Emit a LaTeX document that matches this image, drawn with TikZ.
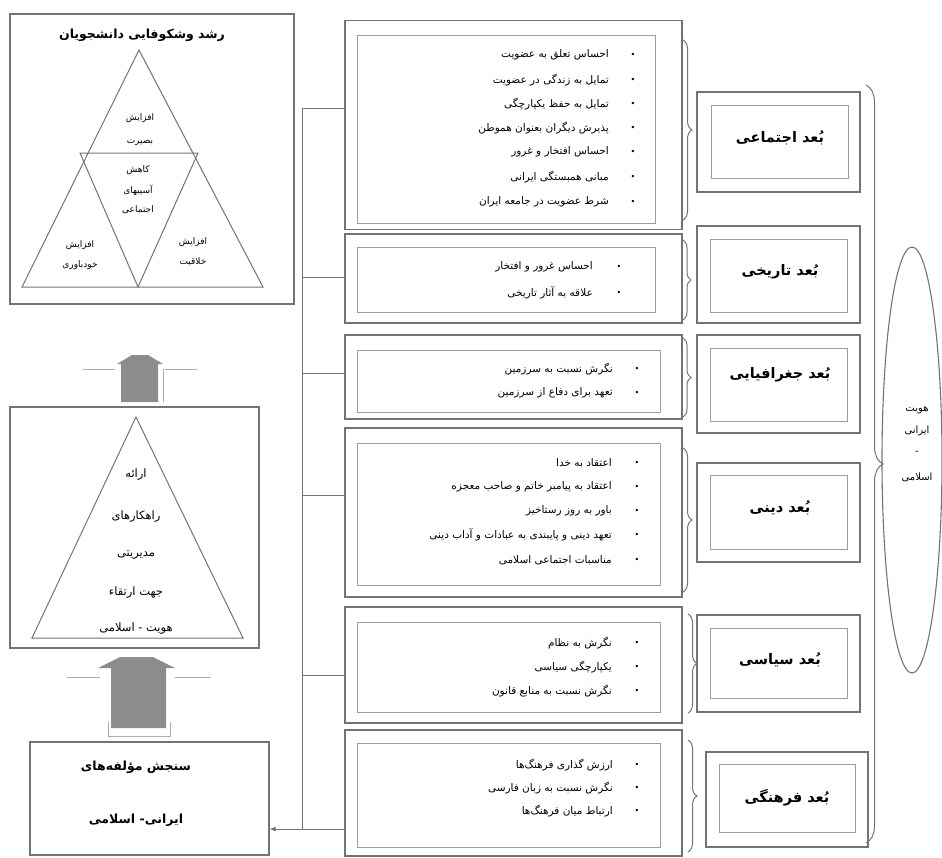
\documentclass[tikz,border=0pt]{standalone}
\usepackage{fontspec}
\newfontfamily\arabicfont[Script=Arabic]{DejaVu Sans}
\TeXXeTstate=1
\usetikzlibrary{shapes.geometric, decorations.pathreplacing, arrows.meta}
\newcommand{\fatext}[1]{{\arabicfont\beginR #1\endR}}
\definecolor{framegray}{gray}{0.45}
\definecolor{arrowgray}{gray}{0.55}
\tikzset{
  outerbox/.style={draw=framegray, line width=1.1pt, inner sep=0pt},
  innerbox/.style={draw=framegray!70, line width=0.8pt, inner sep=0pt},
  item/.style={anchor=east, inner sep=0pt, font=\fontsize{10.5}{11}\selectfont},
  bulletmark/.style={inner sep=0pt, font=\fontsize{8}{9}\selectfont},
  dimlabel/.style={font=\fontsize{14.5}{16}\selectfont\bfseries},
  pyrtext/.style={inner sep=0pt, font=\fontsize{9}{10}\selectfont},
  bigpyrtext/.style={inner sep=0pt, font=\fontsize{11.5}{12}\selectfont},
  boldtext/.style={font=\fontsize{12.5}{14}\selectfont\bfseries},
  braceline/.style={framegray, line width=1pt, decorate},
  flange/.style={framegray!60, line width=0.8pt},
}

\begin{document}
\begin{tikzpicture}[x=1pt, y=-1pt]
  \useasboundingbox (0,0) rectangle (942,857);

  % left column
  \node (top) [outerbox, minimum width=284pt, minimum height=290pt] at (152,159) {};
  \node (title) [boldtext] at (142,35) {\fatext{رشد وشکوفایی دانشجویان}};
  \draw[framegray, line width=1pt] (139,50) -- (22,287) -- (263,287) -- cycle;
  \draw[framegray, line width=1pt] (80,153) -- (198,153) -- (138,287) -- cycle;
  \node (t1) [pyrtext] at (140,118) {\fatext{افزایش}};
  \node (t2) [pyrtext] at (140,143) {\fatext{بصیرت}};
  \node (t3) [pyrtext] at (138,170) {\fatext{کاهش}};
  \node (t4) [pyrtext] at (138,190) {\fatext{آسیبهای}};
  \node (t5) [pyrtext] at (138,210) {\fatext{اجتماعی}};
  \node (t6) [pyrtext] at (80,245) {\fatext{افزایش}};
  \node (t7) [pyrtext] at (80,265) {\fatext{خودباوری}};
  \node (t8) [pyrtext] at (193,242) {\fatext{افزایش}};
  \node (t9) [pyrtext] at (193,262) {\fatext{خلاقیت}};

  % upper block arrow
  \fill[arrowgray] (121,402) -- (121,364) -- (117,364) -- (132,355) -- (148,355) -- (163,364) -- (158,364) -- (158,402) -- cycle;
  \draw[flange] (83,369) -- (115,369);
  \draw[flange] (165,369) -- (197,369);
  \draw[flange] (163,369) -- (163,402);

  \node (mid) [outerbox, minimum width=249pt, minimum height=241pt] at (134.5,527.5) {};
  \draw[framegray, line width=1pt] (136,417) -- (32,638) -- (243,638) -- cycle;
  \node (m1) [bigpyrtext] at (136,475) {\fatext{ارائه}};
  \node (m2) [bigpyrtext] at (136,517) {\fatext{راهکارهای}};
  \node (m3) [bigpyrtext] at (136,555) {\fatext{مدیریتی}};
  \node (m4) [bigpyrtext] at (136,593) {\fatext{جهت ارتقاء}};
  \node (m5) [bigpyrtext] at (136,629) {\fatext{هویت - اسلامی}};

  % lower block arrow
  \fill[arrowgray] (111,728) -- (111,668) -- (98,668) -- (120,657) -- (153,657) -- (175,668) -- (166,668) -- (166,728) -- cycle;
  \draw[flange] (67,677) -- (100,677);
  \draw[flange] (175,677) -- (211,677);
  \draw[flange] (108,722) -- (108,736) -- (170,736) -- (170,722);

  \node (low) [outerbox, minimum width=239pt, minimum height=113pt] at (149.5,798.5) {};
  \node (l1) [boldtext] at (136,767) {\fatext{سنجش مؤلفه‌های}};
  \node (l2) [boldtext] at (136,820) {\fatext{ایرانی- اسلامی}};

  % item boxes
  \node (b1) [outerbox, minimum width=337pt, minimum height=209pt] at (513.5,125) {};
  \node (b1in) [innerbox, minimum width=298pt, minimum height=188pt] at (506,129) {};
  \node (b2) [outerbox, minimum width=337pt, minimum height=89pt] at (513.5,278.5) {};
  \node (b2in) [innerbox, minimum width=298pt, minimum height=65pt] at (506,279.5) {};
  \node (b3) [outerbox, minimum width=337pt, minimum height=84pt] at (513.5,377) {};
  \node (b3in) [innerbox, minimum width=303pt, minimum height=62pt] at (508.5,381) {};
  \node (b4) [outerbox, minimum width=337pt, minimum height=169pt] at (513.5,512.5) {};
  \node (b4in) [innerbox, minimum width=303pt, minimum height=142pt] at (508.5,514) {};
  \node (b5) [outerbox, minimum width=337pt, minimum height=116pt] at (513.5,665) {};
  \node (b5in) [innerbox, minimum width=303pt, minimum height=90pt] at (508.5,667) {};
  \node (b6) [outerbox, minimum width=337pt, minimum height=126pt] at (513.5,793) {};
  \node (b6in) [innerbox, minimum width=303pt, minimum height=104pt] at (508.5,795) {};

  \node (s1) [item] at (609,55) {\fatext{احساس تعلق به عضویت}};
  \node (s2) [item] at (609,80) {\fatext{تمایل به زندگی در عضویت}};
  \node (s3) [item] at (609,104) {\fatext{تمایل به حفظ یکپارچگی}};
  \node (s4) [item] at (609,128) {\fatext{پذیرش دیگران بعنوان هموطن}};
  \node (s5) [item] at (609,152) {\fatext{احساس افتخار و غرور}};
  \node (s6) [item] at (609,177) {\fatext{مبانی همبستگی ایرانی}};
  \node (s7) [item] at (609,202) {\fatext{شرط عضویت در جامعه ایران}};
  \foreach \y in {55,80,104,128,152,177,202}
    \node [bulletmark] at (633,\y) {\arabicfont •};

  \node (h1) [item] at (593,267) {\fatext{احساس غرور و افتخار}};
  \node (h2) [item] at (593,293) {\fatext{علاقه به آثار تاریخی}};
  \foreach \y in {267,293}
    \node [bulletmark] at (619,\y) {\arabicfont •};

  \node (g1) [item] at (613,369) {\fatext{نگرش نسبت به سرزمین}};
  \node (g2) [item] at (613,393) {\fatext{تعهد برای دفاع از سرزمین}};
  \foreach \y in {369,393}
    \node [bulletmark] at (637,\y) {\arabicfont •};

  \node (r1) [item] at (612,463) {\fatext{اعتقاد به خدا}};
  \node (r2) [item] at (612,487) {\fatext{اعتقاد به پیامبر خاتم و صاحب معجزه}};
  \node (r3) [item] at (612,511) {\fatext{باور به روز رستاخیز}};
  \node (r4) [item] at (612,535) {\fatext{تعهد دینی و پایبندی به عبادات و آداب دینی}};
  \node (r5) [item] at (612,560) {\fatext{مناسبات اجتماعی اسلامی}};
  \foreach \y in {463,487,511,535,560}
    \node [bulletmark] at (637,\y) {\arabicfont •};

  \node (p1) [item] at (612,643) {\fatext{نگرش به نظام}};
  \node (p2) [item] at (612,667) {\fatext{یکپارچگی سیاسی}};
  \node (p3) [item] at (612,691) {\fatext{نگرش نسبت به منابع قانون}};
  \foreach \y in {643,667,691}
    \node [bulletmark] at (637,\y) {\arabicfont •};

  \node (c1) [item] at (613,765) {\fatext{ارزش گذاری فرهنگ‌ها}};
  \node (c2) [item] at (613,788) {\fatext{نگرش نسبت به زبان فارسی}};
  \node (c3) [item] at (613,811) {\fatext{ارتباط میان فرهنگ‌ها}};
  \foreach \y in {765,788,811}
    \node [bulletmark] at (637,\y) {\arabicfont •};

  % braces
  \draw[braceline, decoration={brace, amplitude=9pt}] (683,40) -- (683,220);
  \draw[braceline, decoration={brace, amplitude=8pt}] (683,240) -- (683,320);
  \draw[braceline, decoration={brace, amplitude=8pt}] (683,338) -- (683,417);
  \draw[braceline, decoration={brace, amplitude=9pt}] (683,448) -- (683,592);
  \draw[braceline, decoration={brace, amplitude=9pt}] (688,614) -- (688,713);
  \draw[braceline, decoration={brace, amplitude=9pt}] (688,740) -- (688,852);

  % dimension boxes
  \node (d1) [outerbox, minimum width=163pt, minimum height=100pt] at (778.5,142) {};
  \node (d1in) [innerbox, minimum width=137pt, minimum height=73pt] at (779.5,141.5) {};
  \node (d2) [outerbox, minimum width=163pt, minimum height=97pt] at (778.5,274.5) {};
  \node (d2in) [innerbox, minimum width=137pt, minimum height=73pt] at (779,275.5) {};
  \node (d3) [outerbox, minimum width=163pt, minimum height=98pt] at (778.5,384) {};
  \node (d3in) [innerbox, minimum width=137pt, minimum height=73pt] at (779,384.5) {};
  \node (d4) [outerbox, minimum width=163pt, minimum height=99pt] at (778.5,512.5) {};
  \node (d4in) [innerbox, minimum width=137pt, minimum height=74pt] at (779,512) {};
  \node (d5) [outerbox, minimum width=163pt, minimum height=97pt] at (778.5,663.5) {};
  \node (d5in) [innerbox, minimum width=137pt, minimum height=70pt] at (779,663) {};
  \node (d6) [outerbox, minimum width=162pt, minimum height=95pt] at (787,799.5) {};
  \node (d6in) [innerbox, minimum width=136pt, minimum height=68pt] at (787,798) {};
  \node (e1) [dimlabel] at (780,138) {\fatext{بُعد اجتماعی}};
  \node (e2) [dimlabel] at (780,272) {\fatext{بُعد تاریخی}};
  \node (e3) [dimlabel] at (780,375) {\fatext{بُعد جغرافیایی}};
  \node (e4) [dimlabel] at (780,508) {\fatext{بُعد دینی}};
  \node (e5) [dimlabel] at (780,660) {\fatext{بُعد سیاسی}};
  \node (e6) [dimlabel] at (787,798) {\fatext{بُعد فرهنگی}};

  % whole identity
  \draw[braceline, decoration={brace, amplitude=17pt}] (866,85) -- (866,843);
  \node (hoviat) [ellipse, draw=framegray, line width=1.1pt, minimum width=60pt, minimum height=426pt] at (912,460) {};
  \node (w1) [pyrtext, font=\fontsize{10}{11}\selectfont] at (917,410) {\fatext{هویت}};
  \node (w2) [pyrtext, font=\fontsize{10}{11}\selectfont] at (917,431) {\fatext{ایرانی}};
  \node (w3) [pyrtext, font=\fontsize{10}{11}\selectfont] at (917,453) {\fatext{-}};
  \node (w4) [pyrtext, font=\fontsize{10}{11}\selectfont] at (917,477) {\fatext{اسلامی}};

  % trunk
  \coordinate (j1) at (302,108);
  \coordinate (j2) at (302,277);
  \coordinate (j3) at (302,373);
  \coordinate (j4) at (302,495);
  \coordinate (j5) at (302,675);
  \coordinate (j6) at (302,829);
  \draw[framegray, line width=1pt] (j1) -- (j6);
  \draw[framegray, line width=1pt] (j1) -- (j1 -| b1.west);
  \draw[framegray, line width=1pt] (j2) -- (j2 -| b2.west);
  \draw[framegray, line width=1pt] (j3) -- (j3 -| b3.west);
  \draw[framegray, line width=1pt] (j4) -- (j4 -| b4.west);
  \draw[framegray, line width=1pt] (j5) -- (j5 -| b5.west);
  \draw[framegray, line width=1pt, -{Latex[length=6pt, width=5pt]}] (j6 -| b6.west) -- (j6 -| low.east);
\end{tikzpicture}
\end{document}
